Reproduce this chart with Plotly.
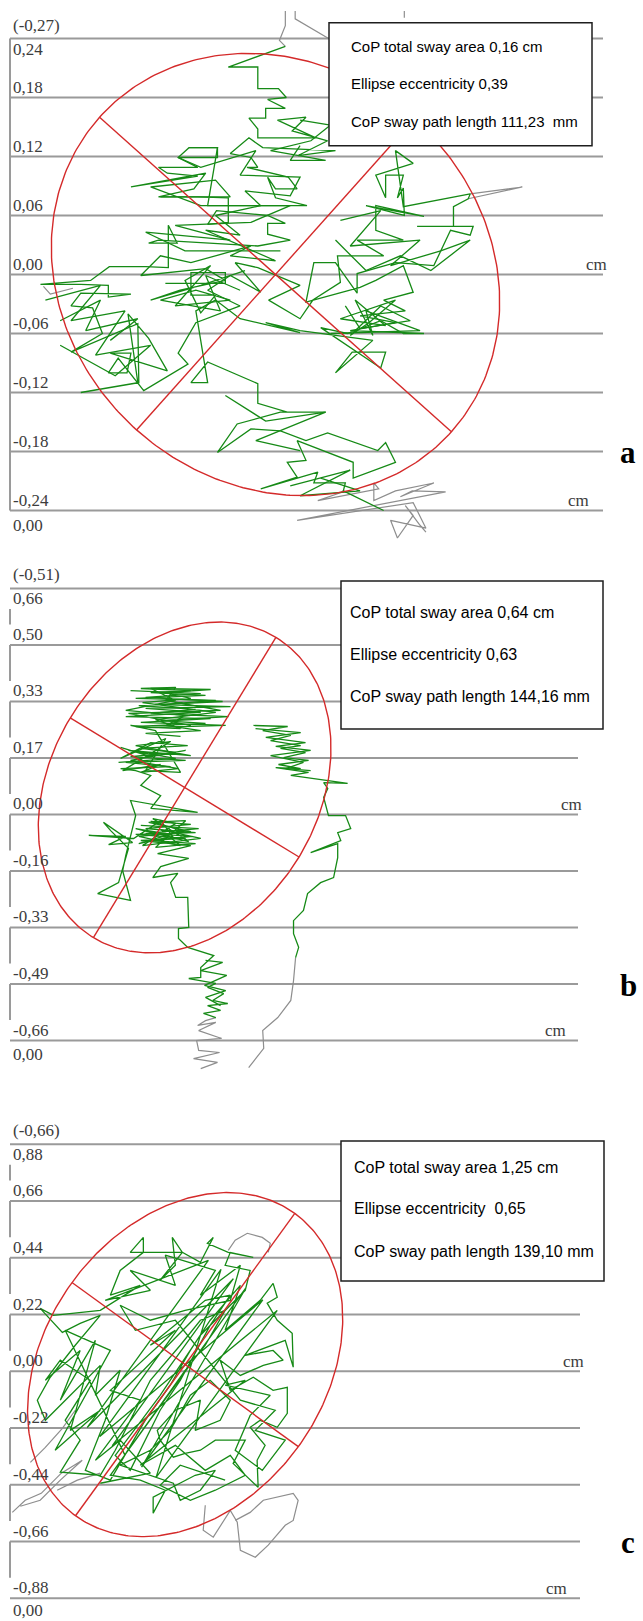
import numpy as np
import plotly.graph_objects as go

# ======================= DATA =======================
# ---- panel a ----
A_YTICKS = [0.24, 0.18, 0.12, 0.06, 0.00, -0.06, -0.12, -0.18, -0.24]
A_YLABELS = ["0,24", "0,18", "0,12", "0,06", "0,00", "-0,06", "-0,12", "-0,18", "-0,24"]
A_XMIN = -0.27
A_XMIN_LABEL = "(-0,27)"
A_BOTTOM_LABEL = "0,00"
A_STATS = ["CoP total sway area 0,16 cm", "Ellipse eccentricity 0,39",
           "CoP sway path length 111,23\u00a0 mm"]
A_ELL_CENTER = [0.0, 0.0]
A_ELL_AXES = [0.240, 0.212]
A_ELL_ANGLE = -41.8
A_GREEN_X = [
    0.010, -0.048, -0.018, -0.018, 0.003, 0.011, -0.008, 0.010, -0.010, -0.010,
    -0.027, -0.018, -0.018, 0.041, 0.002, 0.031, 0.017, 0.053, 0.023, 0.061,
    -0.013, -0.027, -0.046, -0.025, -0.018, -0.029, 0.013, 0.022, 0.000, -0.008,
    0.000, 0.032, -0.069, -0.059, -0.088, -0.099, -0.079, -0.119, -0.110, -0.079,
    -0.147, -0.071, -0.083, -0.119, -0.079, -0.048, -0.048, -0.069, -0.060, -0.008,
    0.010, -0.008, -0.008, 0.015, -0.018, -0.119, -0.129, -0.100, -0.109, -0.109,
    -0.132, -0.169, -0.188, -0.239, -0.198, -0.170, -0.170, -0.147, -0.198, -0.208,
    -0.186, -0.176, -0.208, -0.140, -0.139, -0.198, -0.140, -0.150, -0.129, -0.110,
    -0.168, -0.147, -0.151, -0.170, -0.160, -0.134, -0.089, -0.099, -0.081, -0.036,
    -0.069, -0.046, -0.015, -0.041, -0.018, 0.025, -0.007, 0.025, 0.038, 0.066,
    0.063, 0.110, 0.083, 0.130, 0.102, 0.102, 0.151, 0.092, 0.131, 0.130,
    0.124, 0.130, 0.112, 0.112, 0.102, 0.140, 0.122, 0.130, 0.198, 0.196,
    0.181, 0.181, 0.144, 0.201, 0.198, 0.178, 0.161, 0.122, 0.083, 0.083,
    0.061, 0.039, 0.031, 0.086, 0.102, 0.130, 0.140, 0.110, 0.132, 0.086,
    0.122, 0.076, 0.151, 0.130, 0.107, 0.073, 0.046, 0.107, 0.112, 0.078,
    0.061, 0.099, 0.025, -0.010, 0.025, -0.036, -0.061, -0.081, -0.069, -0.086,
    -0.069, -0.018, -0.018, 0.012, 0.051, 0.005, -0.039, -0.059, -0.025, 0.005,
    0.031, 0.053, 0.104, 0.112, 0.122, 0.079, 0.079, 0.022, 0.031, 0.012,
    0.022, -0.015, 0.043, 0.039, 0.071, 0.069, 0.110, None,
    -0.088, -0.059, -0.059, -0.099, -0.076, -0.020, -0.036, 0.025, 0.015, -0.031,
    -0.015, -0.061, -0.036, -0.071, 0.000, -0.046, -0.025, -0.086, -0.117, -0.137,
    -0.071, -0.051, -0.097, -0.127, -0.076, -0.031, None,
    -0.112, -0.051, -0.051, -0.086, -0.086, -0.061, -0.076, -0.092, -0.066, -0.102,
    -0.046, -0.081, -0.117, -0.056, -0.071, -0.036, None,
    0.056, 0.147, 0.092, 0.099, 0.081, 0.112, 0.066, 0.122, 0.095, 0.076,
    0.107, 0.137, 0.086, 0.071, None,
    0.025, 0.056, 0.036, -0.005, 0.051, 0.015, 0.025, None,
    0.066, 0.107, 0.076, 0.147, 0.117, 0.168, 0.198, 0.158, 0.127, 0.092, 0.061, None,
    -0.219, -0.178, -0.193, -0.140, -0.168, None,
    -0.117, -0.046, -0.061, -0.127, -0.076, 0.015, -0.025, -0.102, -0.046, -0.132,
    -0.092, 0.005, None,
    -0.234, -0.178, -0.208, -0.153, -0.183, -0.127, -0.163, -0.219, None,
    -0.051, -0.010, 0.051, -0.020, 0.025, None,
    0.015, 0.076, 0.025, 0.086, 0.046]
A_GREEN_Y = [
    0.232, 0.211, 0.211, 0.189, 0.189, 0.180, 0.178, 0.169, 0.169, 0.159,
    0.159, 0.148, 0.139, 0.139, 0.157, 0.160, 0.146, 0.136, 0.121, 0.126,
    0.129, 0.139, 0.123, 0.119, 0.109, 0.109, 0.099, 0.087, 0.087, 0.099,
    0.078, 0.070, 0.070, 0.129, 0.129, 0.119, 0.109, 0.109, 0.103, 0.100,
    0.089, 0.103, 0.087, 0.079, 0.079, 0.078, 0.053, 0.051, 0.065, 0.060,
    0.052, 0.052, 0.041, 0.035, 0.029, 0.035, 0.032, 0.032, 0.050, 0.007,
    0.008, 0.008, -0.006, -0.010, -0.010, -0.011, -0.023, -0.020, -0.019, -0.032,
    -0.034, -0.060, -0.079, -0.050, -0.110, -0.120, -0.110, -0.040, -0.065, -0.098,
    -0.080, -0.080, -0.100, -0.100, -0.085, -0.118, -0.091, -0.080, -0.049, -0.032,
    -0.016, -0.001, -0.018, 0.012, 0.007, -0.011, -0.026, -0.045, -0.026, -0.008,
    0.019, 0.019, 0.035, 0.035, 0.045, 0.070, 0.059, 0.070, 0.060, 0.088,
    0.078, 0.101, 0.101, 0.078, 0.101, 0.113, 0.126, 0.069, 0.082, 0.077,
    0.069, 0.049, 0.049, 0.049, 0.040, 0.045, 0.009, 0.012, 0.001, -0.019,
    0.012, 0.012, -0.028, -0.013, -0.006, 0.009, -0.018, -0.026, -0.037, -0.042,
    -0.049, -0.057, -0.060, -0.060, -0.047, -0.060, -0.054, -0.095, -0.079, -0.079,
    -0.100, -0.067, -0.057, -0.049, -0.059, -0.045, -0.026, -0.037, -0.110, -0.110,
    -0.089, -0.111, -0.131, -0.140, -0.140, -0.140, -0.152, -0.181, -0.157, -0.159,
    -0.169, -0.161, -0.179, -0.171, -0.191, -0.207, -0.191, -0.169, -0.189, -0.191,
    -0.206, -0.218, -0.201, -0.212, -0.212, -0.220, -0.240, None,
    0.129, 0.129, 0.119, 0.119, 0.109, 0.126, 0.101, 0.099, 0.080, 0.085,
    0.070, 0.060, 0.040, 0.045, 0.014, 0.019, 0.029, 0.012, 0.019, -0.001,
    0.006, -0.006, -0.016, -0.026, -0.011, 0.004, None,
    -0.009, -0.009, 0.002, 0.002, -0.021, -0.021, -0.039, -0.006, 0.009, -0.032,
    -0.026, -0.016, -0.026, -0.037, -0.001, -0.016, None,
    -0.060, -0.057, -0.037, -0.062, -0.026, -0.052, -0.045, -0.026, -0.049, -0.062,
    -0.032, -0.047, -0.055, -0.032, None,
    0.157, 0.152, 0.136, 0.126, 0.116, 0.116, 0.131, None,
    0.055, 0.065, 0.029, 0.035, 0.009, 0.024, 0.035, 0.004, 0.019, 0.004, 0.035, None,
    -0.047, -0.026, -0.057, -0.045, -0.067, None,
    0.079, 0.079, 0.096, 0.089, 0.070, 0.070, 0.053, 0.050, 0.035, 0.043,
    0.024, 0.024, None,
    -0.026, -0.011, -0.047, -0.037, -0.082, -0.072, -0.103, -0.072, None,
    -0.123, -0.149, -0.140, -0.169, -0.179, None,
    -0.215, -0.199, -0.225, -0.220, -0.207]
A_GRAY_X = [0.010, 0.010, 0.004, 0.010, None, 0.020, 0.020, 0.054, None, 0.131, 0.131, None,
            0.198, 0.251, 0.196, None, -0.236, -0.229, -0.206, None,
            0.069, 0.066, 0.043, 0.105, 0.100, 0.100, 0.122, 0.161, 0.127, 0.139, 0.173,
            0.022, 0.140, 0.153, 0.117, 0.124, 0.140, 0.132, 0.147, 0.153]
A_GRAY_Y = [0.268, 0.253, 0.238, 0.232, None, 0.268, 0.260, 0.240, None, 0.268, 0.261, None,
            0.082, 0.089, 0.077, None, -0.012, -0.020, -0.014, None,
            -0.220, -0.222, -0.230, -0.218, -0.212, -0.230, -0.220, -0.212, -0.226, -0.220, -0.221,
            -0.250, -0.232, -0.258, -0.250, -0.268, -0.245, -0.235, -0.255, -0.262]

# ---- panel b ----
B_YTICKS = [0.66, 0.495, 0.33, 0.165, 0.00, -0.165, -0.33, -0.495, -0.66]
B_YLABELS = ["0,66", "0,50", "0,33", "0,17", "0,00", "-0,16", "-0,33", "-0,49", "-0,66"]
B_XMIN = -0.51
B_XMIN_LABEL = "(-0,51)"
B_BOTTOM_LABEL = "0,00"
B_STATS = ["CoP total sway area 0,64 cm", "Ellipse eccentricity 0,63",
           "CoP sway path length 144,16 mm"]
B_ELL_CENTER = [0.0, 0.079]
B_ELL_AXES = [0.513, 0.391]
B_ELL_ANGLE = 58.7
B_GREEN_X = [
    0.091, 0.055, 0.105, 0.067, 0.126, 0.082, 0.114, 0.067, 0.091, 0.012,
    0.047, 0.047, 0.085, 0.009, -0.018, -0.018, 0.012, 0.009, -0.026, -0.041,
    -0.020, -0.093, -0.070, 0.012, -0.079, 0.018, -0.128, 0.003, -0.143, 0.032,
    -0.114, 0.018, -0.099, -0.006, -0.134, -0.035, -0.070, -0.149, -0.280, -0.172,
    -0.222, -0.152, -0.237, -0.216, -0.164, -0.193, -0.254, -0.158, -0.181, -0.172,
    -0.143, -0.158, 0.038, -0.099, -0.070, -0.128, -0.099, -0.143, -0.187, -0.041,
    -0.172, 0.003, -0.158, -0.026, -0.128, 0.009, -0.099, -0.187, -0.055, -0.114,
    -0.012, -0.085, -0.158, -0.099, 0.120, -0.128, 0.076, -0.172, 0.047, -0.114,
    0.134, -0.070, 0.091, -0.143, 0.061, -0.099, 0.018, -0.128, -0.026, -0.055,
    0.105, -0.164, 0.018, None,
    0.201, 0.301, 0.228, 0.310, 0.251, 0.339, 0.280, 0.353, 0.289, 0.362,
    0.274, 0.339, 0.266, 0.362, 0.310, 0.476, 0.406, 0.418, 0.406, 0.420,
    0.470, 0.485, 0.447, 0.456, 0.368, 0.447, 0.447, 0.435, 0.397, 0.359,
    0.347, 0.318, 0.318, 0.333, 0.324, None,
    -0.158, 0.047, -0.114, 0.111, -0.134, 0.032, -0.099, 0.128, -0.070, 0.061,
    -0.143, -0.012, -0.085, 0.091, -0.123, 0.018, -0.055, 0.076, -0.099, -0.026,
    -0.172, 0.003, -0.055, 0.047, -0.114, -0.012, None,
    -0.193, -0.026, -0.164, 0.018, -0.143, -0.041, -0.181, -0.070, -0.128, -0.018,
    -0.158, 0.003, -0.099, -0.187, None,
    -0.128, 0.041, -0.114, 0.023, -0.099, 0.032, -0.085, 0.003, -0.105, 0.018,
    -0.134, -0.012, -0.070, 0.047, -0.123, -0.026, -0.093, 0.012, -0.143, -0.041, None,
    0.207, 0.339, 0.237, 0.353, 0.266, 0.368, 0.251, 0.347, 0.295, 0.368, None,
    0.061, 0.111, 0.047, 0.123, 0.058, 0.120, 0.061, 0.105]
B_GREEN_Y = [
    -0.593, -0.581, -0.572, -0.558, -0.552, -0.543, -0.523, -0.505, -0.493, -0.479,
    -0.476, -0.447, -0.412, -0.388, -0.362, -0.333, -0.330, -0.242, -0.242, -0.199,
    -0.172, -0.184, -0.152, -0.128, -0.114, -0.091, -0.076, -0.070, -0.058, -0.053,
    -0.041, -0.029, -0.020, -0.047, -0.085, -0.064, -0.018, -0.070, -0.061, -0.064,
    -0.088, -0.082, -0.023, -0.047, -0.099, -0.199, -0.231, -0.251, -0.164, -0.120,
    -0.003, 0.041, 0.006, 0.018, 0.055, 0.085, 0.114, 0.128, 0.134, 0.140,
    0.152, 0.158, 0.169, 0.181, 0.193, 0.201, 0.210, 0.164, 0.222, 0.128,
    0.123, 0.245, 0.260, 0.254, 0.260, 0.269, 0.280, 0.286, 0.298, 0.310,
    0.315, 0.321, 0.333, 0.339, 0.348, 0.356, 0.362, 0.368, 0.371, 0.333,
    0.304, 0.295, 0.260, None,
    0.260, 0.257, 0.245, 0.231, 0.216, 0.201, 0.193, 0.181, 0.166, 0.158,
    0.146, 0.134, 0.137, 0.123, 0.114, 0.091, 0.093, 0.076, 0.050, -0.003,
    -0.003, -0.041, -0.053, -0.076, -0.111, -0.085, -0.126, -0.184, -0.199, -0.231,
    -0.280, -0.310, -0.348, -0.388, -0.418, None,
    0.362, 0.353, 0.342, 0.330, 0.318, 0.307, 0.295, 0.286, 0.274, 0.266,
    0.257, 0.251, 0.277, 0.298, 0.327, 0.339, 0.356, 0.365, 0.368, 0.333,
    0.304, 0.289, 0.260, 0.245, 0.237, 0.228, None,
    0.152, 0.164, 0.187, 0.172, 0.201, 0.213, 0.128, 0.146, 0.123, 0.134,
    0.158, 0.187, 0.169, 0.196, None,
    -0.032, -0.041, -0.055, -0.064, -0.076, -0.085, -0.096, -0.018, -0.023, -0.050,
    -0.064, -0.091, -0.044, -0.070, -0.091, -0.026, -0.012, -0.079, -0.041, -0.058, None,
    0.251, 0.239, 0.225, 0.210, 0.199, 0.187, 0.172, 0.152, 0.134, 0.128, None,
    -0.426, -0.432, -0.456, -0.470, -0.499, -0.514, -0.534, -0.558]
B_GRAY_X = [0.324, 0.318, 0.310, 0.272, 0.228, 0.231, 0.187, None,
            0.091, 0.061, 0.038, 0.091, 0.041, 0.108, 0.035, 0.041, 0.102, 0.026, 0.096, 0.047]
B_GRAY_Y = [-0.418, -0.485, -0.543, -0.593, -0.631, -0.683, -0.739, None,
            -0.593, -0.602, -0.616, -0.607, -0.631, -0.654, -0.660, -0.689, -0.695, -0.713, -0.724, -0.742]

# ---- panel c ----
C_YTICKS = [0.88, 0.66, 0.44, 0.22, 0.00, -0.22, -0.44, -0.66, -0.88]
C_YLABELS = ["0,88", "0,66", "0,44", "0,22", "0,00", "-0,22", "-0,44", "-0,66", "-0,88"]
C_XMIN = -0.66
C_XMIN_LABEL = "(-0,66)"
C_BOTTOM_LABEL = "0,00"
C_STATS = ["CoP total sway area 1,25 cm", "Ellipse eccentricity\u00a0 0,65",
           "CoP sway path length 139,10 mm"]
C_ELL_CENTER = [0.019, 0.026]
C_ELL_AXES = [0.724, 0.542]
C_ELL_ANGLE = 54.05
C_GREEN_X = [
    -0.310, -0.116, -0.233, -0.329, -0.155, -0.271, -0.019, -0.116, 0.097, 0.194,
    0.116, 0.000, -0.078, -0.194, -0.252, -0.078, 0.078, 0.252, 0.271, 0.174,
    0.194, 0.283, 0.186, 0.105, 0.128, 0.078, 0.008, -0.031, -0.019, -0.078,
    0.008, -0.194, -0.143, -0.143, -0.233, -0.271, -0.155, -0.310, -0.492, -0.543,
    -0.457, -0.388, -0.310, -0.407, -0.504, -0.554, -0.523, -0.426, -0.310, -0.329,
    -0.233, -0.291, -0.368, -0.271, -0.136, -0.039, 0.039, 0.116, 0.233, 0.174,
    0.310, 0.360, 0.376, 0.337, 0.376, 0.434, 0.438, 0.407, 0.252, 0.360,
    0.399, 0.322, 0.233, 0.155, 0.194, 0.283, 0.360, 0.415, 0.415, 0.376,
    0.310, 0.271, 0.329, 0.298, 0.302, 0.233, 0.205, 0.252, 0.136, 0.078,
    0.019, -0.027, -0.078, -0.089, -0.019, 0.078, 0.058, 0.155, 0.194, 0.116,
    0.039, -0.039, -0.116, -0.233, -0.027, 0.000, 0.078, 0.136, 0.058, -0.105,
    -0.105, -0.058, -0.155, -0.271, -0.174, -0.078, 0.019, 0.097, 0.174, 0.078,
    0.000, -0.116, -0.194, -0.252, -0.310, -0.465, -0.388, -0.446, -0.349, -0.465,
    -0.523, -0.388, -0.465, -0.329, -0.426, -0.310, -0.485, -0.368, -0.271, -0.446,
    -0.215, 0.255, -0.150, 0.320, -0.312, 0.158, -0.094, 0.376, -0.264, 0.206,
    -0.361, 0.109,
    -0.291, -0.116, -0.194, -0.019, -0.058, 0.136, 0.078, 0.233, 0.194, 0.019,
    -0.116, -0.233, -0.174, -0.019,
    0.233, 0.368, 0.291, 0.407, 0.318, 0.213, 0.271, 0.349, 0.174, 0.252,
    -0.155, -0.019, 0.097, 0.194, 0.252, 0.136, 0.039, -0.078, 0.000, 0.174]
C_GREEN_Y = [
    -0.434, -0.395, -0.267, -0.345, -0.112, -0.074, 0.159, 0.101, 0.275, 0.295,
    0.178, -0.035, -0.151, -0.384, -0.326, -0.093, 0.140, 0.314, 0.391, 0.411,
    0.461, 0.442, 0.461, 0.496, 0.519, 0.422, 0.461, 0.519, 0.411, 0.353,
    0.461, 0.461, 0.519, 0.461, 0.391, 0.295, 0.333, 0.236, 0.217, 0.244,
    0.151, 0.186, 0.217, 0.101, -0.023, -0.112, -0.190, -0.093, 0.023, -0.093,
    0.004, -0.190, -0.384, -0.422, -0.190, -0.054, 0.081, 0.198, 0.333, 0.159,
    0.275, 0.341, 0.287, 0.264, 0.198, 0.147, 0.016, 0.120, 0.062, 0.081,
    0.043, 0.023, -0.016, 0.043, -0.074, -0.023, -0.074, -0.062, -0.163, -0.217,
    -0.190, -0.217, -0.287, -0.345, -0.450, -0.384, -0.357, -0.267, -0.267, -0.306,
    -0.318, -0.333, -0.267, -0.229, -0.151, -0.112, -0.229, -0.190, -0.112, -0.035,
    -0.093, -0.229, -0.306, -0.364, -0.434, -0.500, -0.461, -0.384, -0.403, -0.488,
    -0.550, -0.461, -0.422, -0.403, -0.267, -0.132, 0.004, 0.101, 0.236, 0.198,
    0.101, -0.035, -0.190, -0.306, -0.403, -0.391, -0.267, -0.190, -0.035, 0.043,
    -0.035, 0.081, -0.112, 0.120, -0.229, -0.151, -0.306, -0.093, 0.081, 0.159,
    -0.324, 0.324, -0.371, 0.277, -0.253, 0.395, -0.412, 0.236, -0.289, 0.359,
    -0.218, 0.430,
    0.275, 0.314, 0.391, 0.333, 0.450, 0.391, 0.295, 0.411, 0.275, 0.236,
    0.198, 0.256, 0.159, 0.198,
    -0.112, -0.151, -0.229, -0.267, -0.384, -0.306, -0.171, -0.093, -0.054, -0.035,
    -0.364, -0.287, -0.384, -0.326, -0.403, -0.461, -0.500, -0.442, -0.364, -0.422]
C_GRAY_X = [0.186, 0.213, 0.260, 0.318, 0.349, 0.341, None,
            -0.651, -0.601, -0.539, -0.461, -0.380, -0.465, -0.543, -0.620, None,
            -0.581, -0.523, -0.457, -0.407, None,
            -0.477, -0.399, -0.310, None,
            0.097, 0.089, 0.128, 0.194, 0.221, 0.233, 0.291, 0.341, 0.407, 0.438,
            0.457, 0.438, 0.322, 0.271, 0.213]
C_GRAY_Y = [0.469, 0.508, 0.535, 0.519, 0.496, 0.461, None,
            -0.547, -0.500, -0.473, -0.395, -0.345, -0.422, -0.500, -0.523, None,
            -0.353, -0.295, -0.221, -0.151, None,
            -0.461, -0.422, -0.395, None,
            -0.519, -0.616, -0.643, -0.539, -0.585, -0.694, -0.721, -0.674, -0.597, -0.578,
            -0.500, -0.473, -0.500, -0.547, -0.578]

PANEL_LETTERS = ["a", "b", "c"]
UNIT_LABEL = "cm"

# ======================= STYLE / LAYOUT (pixels) =======================
W, H = 643, 1621
SERIF = "Liberation Serif, Times New Roman, serif"
SANS = "Liberation Sans, Arial, sans-serif"
GRID_COLOR = "#9a9a9a"
LABEL_COLOR = "#3c3c3c"
GREEN = "#168a16"
GRAY = "#8e8e8e"
RED = "#d42a2a"

PANELS = [
    dict(ticks=A_YTICKS, labels=A_YLABELS, xmin=A_XMIN, xmin_label=A_XMIN_LABEL, bottom_label=A_BOTTOM_LABEL,
         stats=A_STATS, gx=A_GREEN_X, gy=A_GREEN_Y, hx=A_GRAY_X, hy=A_GRAY_Y,
         ec=A_ELL_CENTER, ea=A_ELL_AXES, eang=A_ELL_ANGLE, letter=PANEL_LETTERS[0],
         dom=(0, 540), line_top=38.5, line_bot=510.5, axis_px=10, grid_end=603, broken_axis=False,
         box=(329, 22.7, 592, 145.7), text_x=349, text_y=(46, 83, 121), text_size=15,
         cm_top_x=596, cm_bot_x=578, letter_xy=(628, 452), bottom_shift=-15),
    dict(ticks=B_YTICKS, labels=B_YLABELS, xmin=B_XMIN, xmin_label=B_XMIN_LABEL, bottom_label=B_BOTTOM_LABEL,
         stats=B_STATS, gx=B_GREEN_X, gy=B_GREEN_Y, hx=B_GRAY_X, hy=B_GRAY_Y,
         ec=B_ELL_CENTER, ea=B_ELL_AXES, eang=B_ELL_ANGLE, letter=PANEL_LETTERS[1],
         dom=(540, 1090), line_top=588.5, line_bot=1040.5, axis_px=10, grid_end=578, broken_axis=True,
         box=(341, 581, 603, 729), text_x=348, text_y=(613, 654, 696), text_size=16,
         cm_top_x=571, cm_bot_x=555, letter_xy=(628, 985), bottom_shift=-14),
    dict(ticks=C_YTICKS, labels=C_YLABELS, xmin=C_XMIN, xmin_label=C_XMIN_LABEL, bottom_label=C_BOTTOM_LABEL,
         stats=C_STATS, gx=C_GREEN_X, gy=C_GREEN_Y, hx=C_GRAY_X, hy=C_GRAY_Y,
         ec=C_ELL_CENTER, ea=C_ELL_AXES, eang=C_ELL_ANGLE, letter=PANEL_LETTERS[2],
         dom=(1090, 1621), line_top=1144.3, line_bot=1598.3, axis_px=10, grid_end=580, broken_axis=True,
         box=(341, 1141, 604, 1281), text_x=352, text_y=(1167, 1208, 1251), text_size=16,
         cm_top_x=573, cm_bot_x=556, letter_xy=(628, 1542), bottom_shift=-12),
]

fig = go.Figure()
shapes, annots, axes = [], [], {}

for n, P in enumerate(PANELS, start=1):
    xa = "x" if n == 1 else f"x{n}"
    ya = "y" if n == 1 else f"y{n}"
    ticks = P["ticks"]
    ppc = (P["line_bot"] - P["line_top"]) / (ticks[0] - ticks[-1])
    zero_px = P["line_top"] + ticks[0] * ppc
    xmin, axpx = P["xmin"], P["axis_px"]

    def x_of(px, xmin=xmin, axpx=axpx, ppc=ppc):
        return xmin + (px - axpx) / ppc

    top, bot = P["dom"]
    axes["xaxis" if n == 1 else f"xaxis{n}"] = dict(
        domain=[0, 1], range=[x_of(0), x_of(W)], visible=False, anchor=ya, fixedrange=True)
    axes["yaxis" if n == 1 else f"yaxis{n}"] = dict(
        domain=[1 - bot / H, 1 - top / H], range=[(zero_px - bot) / ppc, (zero_px - top) / ppc],
        visible=False, anchor=xa, fixedrange=True)

    # traces
    fig.add_trace(go.Scatter(x=P["hx"], y=P["hy"], mode="lines", line=dict(color=GRAY, width=1.2),
                             xaxis=xa, yaxis=ya, hoverinfo="skip", connectgaps=False))
    fig.add_trace(go.Scatter(x=P["gx"], y=P["gy"], mode="lines", line=dict(color=GREEN, width=1.3),
                             xaxis=xa, yaxis=ya, hoverinfo="skip", connectgaps=False))
    cx, cy = P["ec"]
    a, b = P["ea"]
    th = np.deg2rad(P["eang"])
    t = np.linspace(0, 2 * np.pi, 361)
    ex = cx + a * np.cos(t) * np.cos(th) - b * np.sin(t) * np.sin(th)
    ey = cy + a * np.cos(t) * np.sin(th) + b * np.sin(t) * np.cos(th)
    fig.add_trace(go.Scatter(x=ex, y=ey, mode="lines", line=dict(color=RED, width=1.4),
                             xaxis=xa, yaxis=ya, hoverinfo="skip"))
    axx = [cx - a * np.cos(th), cx + a * np.cos(th), None, cx + b * np.sin(th), cx - b * np.sin(th)]
    axy = [cy - a * np.sin(th), cy + a * np.sin(th), None, cy - b * np.cos(th), cy + b * np.cos(th)]
    fig.add_trace(go.Scatter(x=axx, y=axy, mode="lines", line=dict(color=RED, width=1.4),
                             xaxis=xa, yaxis=ya, hoverinfo="skip", connectgaps=False))

    # horizontal grid lines
    for tk in ticks:
        shapes.append(dict(type="line", xref=xa, yref=ya, x0=xmin, x1=x_of(P["grid_end"]), y0=tk, y1=tk,
                           line=dict(color=GRID_COLOR, width=2), layer="below"))
    # left vertical axis (broken behind the labels in panels b and c)
    if P["broken_axis"]:
        gap = 20.5 / ppc
        segs = [(ticks[0] - gap, ticks[1] + gap)] + \
               [(ticks[k], ticks[k + 1] + gap) for k in range(1, len(ticks) - 1)]
    else:
        segs = [(ticks[0], ticks[-1])]
    for y0, y1 in segs:
        shapes.append(dict(type="line", xref=xa, yref=ya, x0=xmin, x1=xmin, y0=y0, y1=y1,
                           line=dict(color=GRID_COLOR, width=2), layer="below"))
    # stats box
    bx0, by0, bx1, by1 = P["box"]
    shapes.append(dict(type="rect", xref="paper", yref="paper", x0=bx0 / W, x1=bx1 / W,
                       y0=1 - by1 / H, y1=1 - by0 / H, fillcolor="white",
                       line=dict(color="#1e1e1e", width=1.5), layer="above"))

    lab_font = dict(family=SERIF, size=17, color=LABEL_COLOR)
    for k, (tk, lab) in enumerate(zip(ticks, P["labels"])):
        annots.append(dict(xref="paper", yref=ya, x=10.5 / W, y=tk, yshift=(-10.5 if k == 0 else 10.5),
                           text=lab, showarrow=False, xanchor="left", yanchor="middle", font=lab_font))
    annots.append(dict(xref="paper", yref=ya, x=10.5 / W, y=ticks[0], yshift=13.5, text=P["xmin_label"],
                       showarrow=False, xanchor="left", yanchor="middle", font=lab_font))
    annots.append(dict(xref="paper", yref=ya, x=10.5 / W, y=ticks[-1], yshift=P["bottom_shift"],
                       text=P["bottom_label"], showarrow=False, xanchor="left", yanchor="middle",
                       font=lab_font))
    annots.append(dict(xref="paper", yref=ya, x=P["cm_top_x"] / W, y=ticks[4], yshift=10, text=UNIT_LABEL,
                       showarrow=False, xanchor="center", yanchor="middle", font=lab_font))
    annots.append(dict(xref="paper", yref=ya, x=P["cm_bot_x"] / W, y=ticks[-1], yshift=10, text=UNIT_LABEL,
                       showarrow=False, xanchor="center", yanchor="middle", font=lab_font))
    lx, ly = P["letter_xy"]
    annots.append(dict(xref="paper", yref="paper", x=lx / W, y=1 - ly / H, text="<b>%s</b>" % P["letter"],
                       showarrow=False, xanchor="center", yanchor="middle",
                       font=dict(family=SERIF, size=31, color="black")))
    for txt, py in zip(P["stats"], P["text_y"]):
        annots.append(dict(xref="paper", yref="paper", x=P["text_x"] / W, y=1 - py / H, text=txt,
                           showarrow=False, xanchor="left", yanchor="middle",
                           font=dict(family=SANS, size=P["text_size"], color="black")))

fig.update_layout(width=W, height=H, margin=dict(l=0, r=0, t=0, b=0, pad=0),
                  paper_bgcolor="white", plot_bgcolor="white", showlegend=False,
                  shapes=shapes, annotations=annots, **axes)

fig.write_html("out.html", include_plotlyjs=True, full_html=True,
               config={"displayModeBar": False, "staticPlot": True},
               post_script="document.body.style.margin='0';document.body.style.overflow='hidden';")
